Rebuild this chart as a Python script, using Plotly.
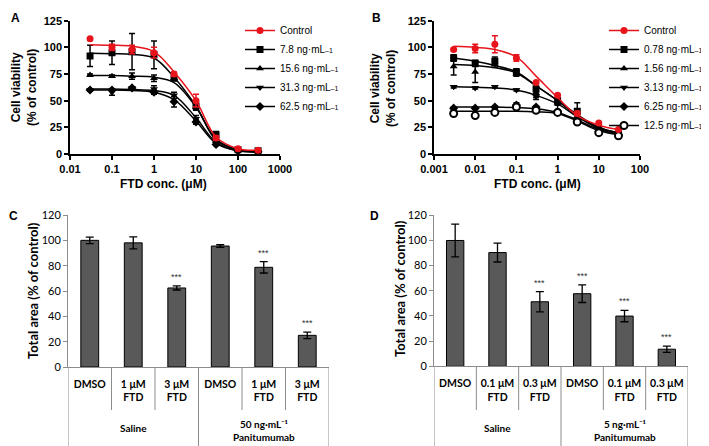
import plotly.graph_objects as go

W, H = 709, 446
RED = "#e8141c"

# ---- panel A: FTD dose response with 7.8-62.5 ng/mL panitumumab ----
conc_a = [0.03, 0.1, 0.3, 1, 3, 10, 30, 100, 300]
names_a = ["Control", "7.8 ng·mL", "15.6 ng·mL", "31.3 ng·mL", "62.5 ng·mL"]
mean_a = [
    [108, 100, 98, 95, 75, 50, 15, 5, 3.5],
    [92, 95, 96, 93, 71, 45, 18, 4, 3],
    [74, 73, 73, 71, 71, 44, 12, 4, 3],
    [60, 58, 62, 61, 55, 33, 11, 3, 2],
    [60, 60, 62, 58, 49, 30, 9, 3, 2],
]
err_a = [
    [1, 3, 4, 5, 2, 6, 2, 1, 1],
    [10, 11, 17, 13, 2, 4, 3, 1, 1],
    [1, 1, 3, 3, 1, 2, 2, 1, 1],
    [1, 3, 1, 3, 3, 3, 2, 1, 1],
    [1, 1, 1, 2, 5, 2, 1, 1, 1],
]
fit_a = [
    [102.5, 102, 101, 96, 77, 50, 16, 5, 3.5],
    [94.5, 94, 93.5, 90, 72, 45, 14, 4, 3],
    [73.5, 73.5, 73, 72, 67, 44, 13, 4, 3],
    [61, 61, 60.5, 59.5, 55, 34, 11, 3, 2],
    [60, 60, 59.5, 58, 51, 31, 10, 3, 2],
]
ticks_a = [0.01, 0.1, 1, 10, 100, 1000]

# ---- panel B: FTD dose response with 0.78-12.5 ng/mL panitumumab ----
conc_b = [0.003, 0.01, 0.03, 0.1, 0.3, 1, 3, 10, 30]
names_b = ["Control", "0.78 ng·mL", "1.56 ng·mL", "3.13 ng·mL", "6.25 ng·mL", "12.5 ng·mL"]
mean_b = [
    [98, 99, 103, 90, 67, 55, 38, 29, 23],
    [90, 85, 87, 77, 61, 50, 40, 23, 19],
    [82, 77, 84, 75, 57, 48, 35, 22, 18],
    [63, 62, 63, 60, 54, 47, 33, 21, 18],
    [43, 43, 44, 46, 44, 40, 31, 21, 18],
    [38, 36, 39, 44, 41, 39, 30, 20, 17],
]
err_b = [
    [1, 4, 8, 3, 1, 1, 2, 1, 1],
    [3, 3, 4, 3, 4, 2, 8, 1, 1],
    [8, 10, 3, 2, 4, 2, 3, 1, 1],
    [1, 1, 1, 1, 3, 1, 2, 1, 1],
    [1, 1, 1, 2, 1, 1, 1, 1, 1],
    [1, 1, 1, 2, 1, 1, 1, 1, 1],
]
fit_b = [
    [101, 100, 98, 91, 73, 53, 36, 27, 23],
    [90, 87, 83, 77, 64, 50, 37, 25, 20],
    [84, 83, 81, 76, 64, 50, 36, 25, 20],
    [63, 62.5, 62, 60, 55, 47, 35, 24, 20],
    [44, 44, 44, 43.5, 42.5, 39, 32, 23, 19],
    [40, 40, 40, 40, 39.5, 38, 31, 22, 18],
]
ticks_b = [0.001, 0.01, 0.1, 1, 10, 100]

symbols = ["circle", "square", "triangle-up", "triangle-down", "diamond", "circle"]

# ---- panels C and D: total area bars ----
labels_c = ["DMSO", "1 μM<br>FTD", "3 μM<br>FTD", "DMSO", "1 μM<br>FTD", "3 μM<br>FTD"]
area_c = [100, 98, 62.4, 95.5, 78.7, 25]
sd_c = [2.6, 4.7, 1.6, 1, 4.5, 2.6]
sig_c = [False, False, True, False, True, True]
groups_c = ["Saline", "50 ng·mL⁻¹<br>Panitumumab"]

labels_d = ["DMSO", "0.1 μM<br>FTD", "0.3 μM<br>FTD", "DMSO", "0.1 μM<br>FTD", "0.3 μM<br>FTD"]
area_d = [100, 90.4, 51.3, 57.7, 39.9, 13.6]
sd_d = [13, 7.5, 8, 7, 4.5, 2.5]
sig_d = [False, False, True, True, True, True]
groups_d = ["Saline", "5 ng·mL⁻¹<br>Panitumumab"]


def px(x):
    return x / W


def py(y):
    return 1 - y / H


ARIAL = "Liberation Sans"
CALIBRI = "Lato"

fig = go.Figure()


def add_curves(conc, names, means, errs, fits, xa, ya, legend):
    # black series first so the red control sits on top
    order = list(range(1, len(names))) + [0]
    for i in order:
        col = RED if i == 0 else "black"
        open_marker = symbols[i] == "circle" and i > 0
        mk = dict(symbol=symbols[i], size=7, color="white" if open_marker else col,
                  line=dict(color=col, width=2 if open_marker else 0))
        fig.add_trace(go.Scatter(
            x=conc, y=fits[i], mode="lines", line=dict(color=col, width=1.5, shape="spline"),
            xaxis=xa, yaxis=ya, showlegend=False, hoverinfo="skip"))
        fig.add_trace(go.Scatter(
            x=conc, y=means[i], mode="markers", marker=mk,
            error_y=dict(type="data", array=errs[i], color=col, thickness=1.5, width=3),
            xaxis=xa, yaxis=ya, showlegend=False))
        label = names[i] if i == 0 else names[i] + "<span style='font-size:7px'>–1</span>"
        # legend-only entry showing line + marker
        fig.add_trace(go.Scatter(
            x=[None], y=[None], mode="lines+markers", name=label, marker=mk,
            line=dict(color=col, width=1.5), xaxis=xa, yaxis=ya,
            legend=legend, legendrank=i + 1))


add_curves(conc_a, names_a, mean_a, err_a, fit_a, "x", "y", "legend")
add_curves(conc_b, names_b, mean_b, err_b, fit_b, "x2", "y2", "legend2")


def add_bars(labels, vals, sds, sig, groups, xa, ya):
    idx = list(range(len(labels)))
    fig.add_trace(go.Bar(
        x=idx, y=vals, width=0.41, marker=dict(color="#595959", line=dict(color="black", width=1)),
        error_y=dict(type="data", array=sds, color="black", thickness=1.3, width=4),
        xaxis=xa, yaxis=ya, showlegend=False))
    for i in idx:
        if sig[i]:
            fig.add_annotation(x=i, y=vals[i] + sds[i], xref=xa, yref=ya, text="***",
                               showarrow=False, yanchor="bottom", yshift=2,
                               font=dict(family=ARIAL, size=9, color="#333"))
    # table lines under the bars
    n = len(labels)
    half = n // 2
    for k in range(n + 1):
        outer = k % half == 0
        fig.add_shape(type="line", xref=xa, yref="paper", x0=k - 0.5, x1=k - 0.5,
                      y0=0 if outer else py(402), y1=py(359),
                      line=dict(color="#8c8c8c", width=1))
    for g, name in enumerate(groups):
        two_line = "<br>" in name
        fig.add_annotation(x=g * half + (half - 1) / 2, y=py(437 if two_line else 420),
                           xref=xa, yref="paper", text=name, showarrow=False,
                           xanchor="center", yanchor="bottom" if two_line else "middle",
                           font=dict(family=CALIBRI, size=10, color="black", weight="bold"))


add_bars(labels_c, area_c, sd_c, sig_c, groups_c, "x3", "y3")
add_bars(labels_d, area_d, sd_d, sig_d, groups_d, "x4", "y4")

curve_x = dict(type="log", showline=True, linecolor="black", linewidth=1.5, ticks="outside",
               ticklen=4, tickwidth=1.5, tickcolor="black", showgrid=False, zeroline=False,
               tickfont=dict(family=ARIAL, size=11, color="black", weight="bold"))
curve_y = dict(range=[0, 125], tickvals=[0, 25, 50, 75, 100, 125], showline=True,
               linecolor="black", linewidth=1.5, ticks="outside", ticklen=4, tickwidth=1.5,
               tickcolor="black", showgrid=False, zeroline=False,
               tickfont=dict(family=ARIAL, size=11, color="black", weight="bold"))
bar_x = dict(range=[-0.5, 5.5], showline=True, linecolor="#8c8c8c", linewidth=1,
             ticks="outside", ticklen=7, tickcolor="rgba(0,0,0,0)", showgrid=False,
             zeroline=False, tickfont=dict(family=CALIBRI, size=10.5, color="black", weight="bold"))
bar_y = dict(range=[0, 120], dtick=20, showline=True, linecolor="#8c8c8c", linewidth=1,
             ticks="outside", ticklen=4, tickcolor="#8c8c8c", showgrid=False, zeroline=False,
             tickfont=dict(family=CALIBRI, size=11, color="black"))

legend_style = dict(font=dict(family=ARIAL, size=10, color="black"), bgcolor="rgba(0,0,0,0)",
                    xanchor="left", yanchor="top", itemwidth=30, tracegroupgap=0)

fig.update_layout(
    width=W, height=H, plot_bgcolor="white", paper_bgcolor="white",
    margin=dict(l=0, r=0, t=0, b=0, autoexpand=False),
    font=dict(family=ARIAL, color="black"),
    xaxis=dict(curve_x, domain=[px(62), px(272)], range=[-2, 3], anchor="y",
               tickvals=ticks_a, ticktext=[str(t) for t in ticks_a]),
    yaxis=dict(curve_y, domain=[py(146), py(12.7)], anchor="x"),
    xaxis2=dict(curve_x, domain=[px(426), px(632)], range=[-3, 2], anchor="y2",
                tickvals=ticks_b, ticktext=[str(t) for t in ticks_b]),
    yaxis2=dict(curve_y, domain=[py(146), py(12.7)], anchor="x2"),
    xaxis3=dict(bar_x, domain=[px(60), px(321)], anchor="y3",
                tickvals=list(range(len(labels_c))), ticktext=labels_c),
    yaxis3=dict(bar_y, domain=[py(359), py(207)], anchor="x3"),
    xaxis4=dict(bar_x, domain=[px(426), px(680)], anchor="y4",
                tickvals=list(range(len(labels_d))), ticktext=labels_d),
    yaxis4=dict(bar_y, domain=[py(358.3), py(207.3)], anchor="x4"),
    legend=dict(legend_style, x=px(232), y=py(8)),
    legend2=dict(legend_style, x=px(596), y=py(8)),
)

# panel letters and axis titles
bold = dict(family=ARIAL, color="black", weight="bold")
for letter, x, y in [("A", 7, 10), ("B", 368, 10), ("C", 5, 208), ("D", 366, 208)]:
    fig.add_annotation(x=px(x), y=py(y), xref="paper", yref="paper", text=letter,
                       xanchor="center", yanchor="middle",
                       showarrow=False, font=dict(bold, size=12))
for x in [16, 375]:
    fig.add_annotation(x=px(x), y=py(80), xref="paper", yref="paper",
                       text="Cell viability<br>(% of control)", textangle=-90,
                       xanchor="center", yanchor="middle",
                       showarrow=False, font=dict(bold, size=12))
for x in [155, 529]:
    fig.add_annotation(x=px(x), y=py(176), xref="paper", yref="paper",
                       text="FTD conc. (μM)", showarrow=False,
                       xanchor="center", yanchor="middle", font=dict(bold, size=12))
for x, y in [(25, 283), (392, 281)]:
    fig.add_annotation(x=px(x), y=py(y), xref="paper", yref="paper",
                       text="Total area (% of control)", textangle=-90, showarrow=False,
                       xanchor="center", yanchor="middle",
                       font=dict(family=CALIBRI, size=13, color="black", weight="bold"))

fig.write_html("out.html")
